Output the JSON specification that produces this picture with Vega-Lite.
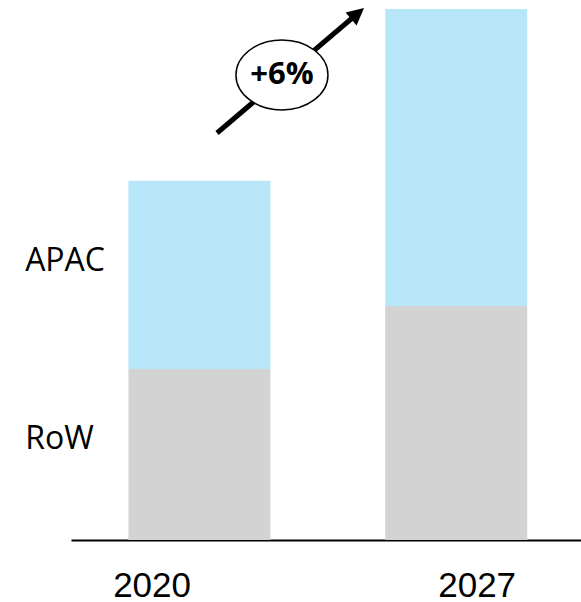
{
  "$schema": "https://vega.github.io/schema/vega-lite/v6.json",
  "width": 510,
  "height": 540,
  "autosize": {"type": "none"},
  "padding": {"left": 71, "right": 0, "top": 0, "bottom": 62},
  "background": "white",
  "config": {"view": {"stroke": null}},
  "layer": [
    {
      "data": {"values": [
        {"year": 2020, "region": "RoW", "value": 47.5},
        {"year": 2020, "region": "APAC", "value": 52.3},
        {"year": 2027, "region": "RoW", "value": 65.0},
        {"year": 2027, "region": "APAC", "value": 82.5}
      ]},
      "mark": {"type": "bar", "width": 142},
      "encoding": {
        "x": {"field": "year", "type": "quantitative",
              "scale": {"domain": [2016.5, 2030.4], "nice": false, "zero": false, "padding": 0},
              "axis": {"labels": false, "ticks": false, "grid": false, "domainColor": "black", "domainWidth": 2, "title": null}},
        "y": {"field": "value", "type": "quantitative", "stack": "zero",
              "scale": {"domain": [0, 150], "nice": false, "padding": 0}, "axis": null},
        "color": {"field": "region", "type": "nominal",
                  "scale": {"domain": ["RoW", "APAC"], "range": ["#d3d3d3", "#b7e6f9"]}, "legend": null},
        "order": {"field": "region", "sort": "descending"}
      }
    },
    {
      "data": {"values": [
        {"ax": 2020.48, "ay": 113.06},
        {"ax": 2024.31, "ay": 146.25}
      ]},
      "mark": {"type": "line", "color": "black", "strokeWidth": 5, "strokeCap": "butt"},
      "encoding": {
        "x": {"field": "ax", "type": "quantitative"},
        "y": {"field": "ay", "type": "quantitative"}
      }
    },
    {
      "data": {"values": [{"ax": 2024.31, "ay": 146.25}]},
      "mark": {"type": "point", "shape": "M0,-1L1,1L-1,1Z", "size": 289, "angle": 49.6, "filled": true, "color": "black", "opacity": 1},
      "encoding": {
        "x": {"field": "ax", "type": "quantitative"},
        "y": {"field": "ay", "type": "quantitative"}
      }
    },
    {
      "data": {"values": [{"ex": 2022.25, "ey": 129.17, "txt": "+6%"}]},
      "layer": [
        {
          "mark": {"type": "point", "shape": "M-1,0A1,0.76,0,1,0,1,0A1,0.76,0,1,0,-1,0Z", "size": 8464, "filled": true, "fill": "white", "stroke": "black", "strokeWidth": 1.5, "opacity": 1},
          "encoding": {
            "x": {"field": "ex", "type": "quantitative"},
            "y": {"field": "ey", "type": "quantitative"}
          }
        },
        {
          "mark": {"type": "text", "font": "Open Sans", "fontWeight": "bold", "fontSize": 31, "align": "center", "baseline": "middle", "color": "black"},
          "encoding": {
            "x": {"field": "ex", "type": "quantitative"},
            "y": {"field": "ey", "type": "quantitative"},
            "text": {"field": "txt"}
          }
        }
      ]
    },
    {
      "data": {"values": [
        {"lx": 2015.25, "ly": 77.6, "label": "APAC"},
        {"lx": 2015.25, "ly": 28.05, "label": "RoW"}
      ]},
      "mark": {"type": "text", "font": "Open Sans", "fontSize": 32, "align": "left", "baseline": "middle", "color": "black"},
      "encoding": {
        "x": {"field": "lx", "type": "quantitative"},
        "y": {"field": "ly", "type": "quantitative"},
        "text": {"field": "label"}
      }
    },
    {
      "data": {"values": [
        {"yx": 2018.71, "yy": -15.83, "label": "2020"},
        {"yx": 2027.57, "yy": -15.83, "label": "2027"}
      ]},
      "mark": {"type": "text", "font": "Liberation Sans", "fontSize": 35, "align": "center", "baseline": "alphabetic", "color": "black"},
      "encoding": {
        "x": {"field": "yx", "type": "quantitative"},
        "y": {"field": "yy", "type": "quantitative"},
        "text": {"field": "label"}
      }
    }
  ]
}
